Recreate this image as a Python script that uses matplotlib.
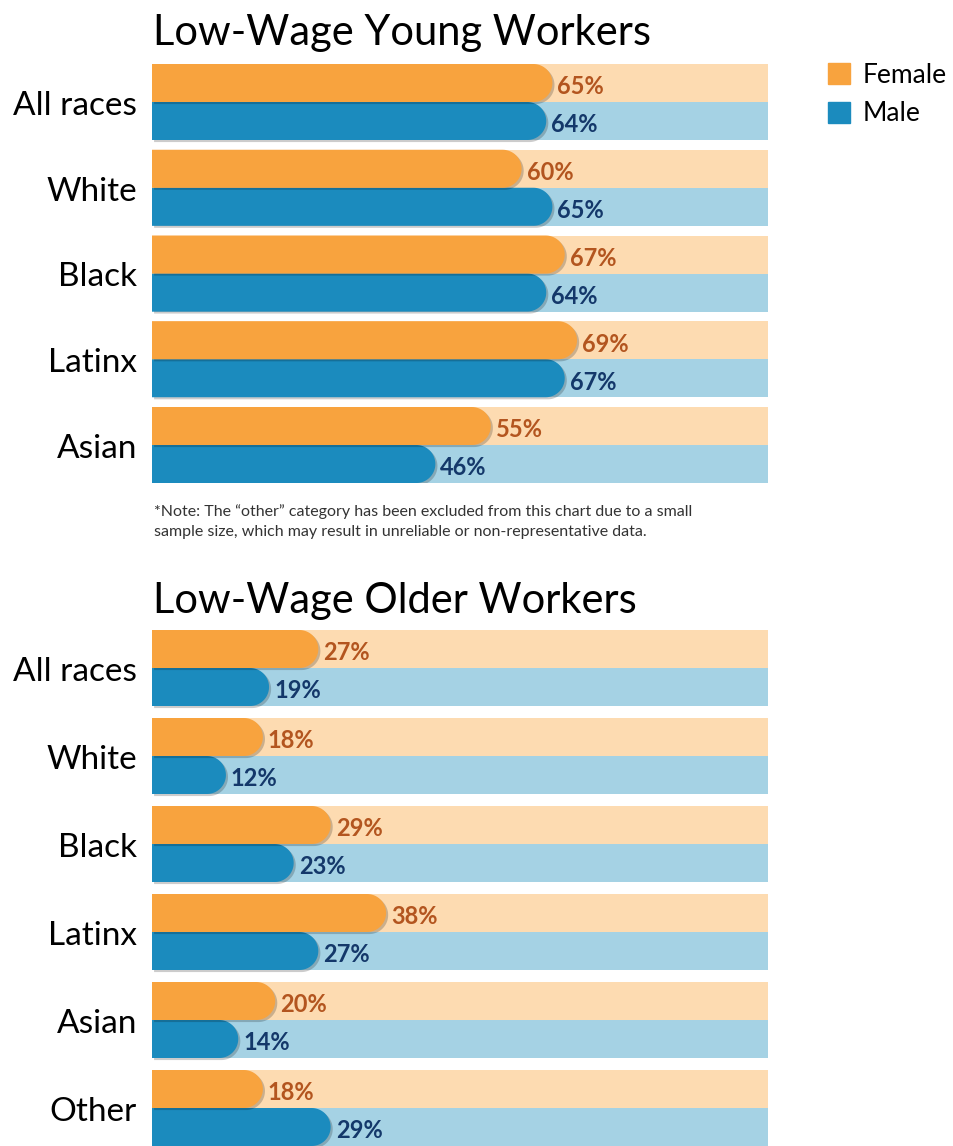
import numpy as np
import matplotlib.pyplot as plt
from matplotlib.patches import Polygon, Rectangle, Patch
import matplotlib.patheffects as pe

plt.rcParams['font.family'] = ['Lato', 'DejaVu Sans']

young_groups = ['All races', 'White', 'Black', 'Latinx', 'Asian']
young_female = [65, 60, 67, 69, 55]
young_male = [64, 65, 64, 67, 46]

older_groups = ['All races', 'White', 'Black', 'Latinx', 'Asian', 'Other']
older_female = [27, 18, 29, 38, 20, 18]
older_male = [19, 12, 23, 27, 14, 29]

FEMALE, FEMALE_BG, FEMALE_TXT = '#f8a33e', '#fddbb1', '#b3551f'
MALE, MALE_BG, MALE_TXT = '#1b8bbe', '#a5d2e4', '#14386a'

note = ('*Note: The \u201cother\u201d category has been excluded from this chart due to a small\n'
        'sample size, which may result in unreliable or non-representative data.')

W, H = 954, 1146
fig = plt.figure(figsize=(W / 100, H / 100), dpi=100)


def px_axes(x0, y0, x1, y1):
    # axes placed by pixel box (top-left origin)
    return fig.add_axes([x0 / W, 1 - y1 / H, (x1 - x0) / W, (y1 - y0) / H])


def panel(ax, groups, female, male, pitch):
    n = len(groups)
    ymax = (n - 1) * pitch + 2
    ax.set_xlim(0, 100)
    ax.set_ylim(ymax, 0)
    ax.axis('off')

    box = ax.get_position()
    px_x = box.width * W / 100
    px_y = box.height * H / ymax
    rx = 0.5 * px_y / px_x  # half a bar height, in x units
    theta = np.linspace(-np.pi / 2, np.pi / 2, 40)
    shadow = [pe.SimplePatchShadow(offset=(1.5, -1.5), shadow_rgbFace='k', alpha=0.2), pe.Normal()]

    for i, g in enumerate(groups):
        top = i * pitch
        series = [(female[i], FEMALE, FEMALE_BG, FEMALE_TXT, 0), (male[i], MALE, MALE_BG, MALE_TXT, 1)]
        # male first so the female end shadow sits on top
        for v, c, bg, tc, j in series[::-1]:
            y0 = top + j
            ax.add_patch(Rectangle((0, y0), 100, 1, color=bg, lw=0, zorder=1))
            cx = max(v - rx, 0)
            arc = list(zip(cx + rx * np.cos(theta), y0 + 0.5 + 0.5 * np.sin(theta)))
            bar = Polygon([(0, y0)] + arc + [(0, y0 + 1)], closed=True, color=c, lw=0,
                          zorder=2 + (1 - j))
            bar.set_path_effects(shadow)
            ax.add_patch(bar)
            ax.text(v + 5 / px_x, y0 + 0.6, f'{v}%', ha='left', va='center',
                    fontsize=17, fontweight='bold', color=tc, zorder=5)
        ax.text(-15 / px_x, top + 1.1, g, ha='right', va='center', fontsize=24,
                color='black', clip_on=False)


ax1 = px_axes(152, 64, 768, 483)
panel(ax1, young_groups, young_female, young_male, 85.75 / 38)

ax2 = px_axes(152, 630, 768, 1146)
panel(ax2, older_groups, older_female, older_male, 88 / 38)

fig.text(153 / W, 1 - 45 / H, 'Low-Wage Young Workers', fontsize=30, va='baseline')
fig.text(153 / W, 1 - 613 / H, 'Low-Wage Older Workers', fontsize=30, va='baseline')
fig.text(154 / W, 1 - 522 / H, note, fontsize=11.5, color='#333333', va='center',
         linespacing=1.55)

handles = [Patch(color=FEMALE), Patch(color=MALE)]
fig.legend(handles, ['Female', 'Male'], loc='upper left',
           bbox_to_anchor=(828 / W, 1 - 63 / H), frameon=False, fontsize=19,
           handlelength=0.85, handleheight=0.85, handletextpad=0.45, labelspacing=0.5,
           borderpad=0, borderaxespad=0)

fig.savefig('out.png', dpi=100)
